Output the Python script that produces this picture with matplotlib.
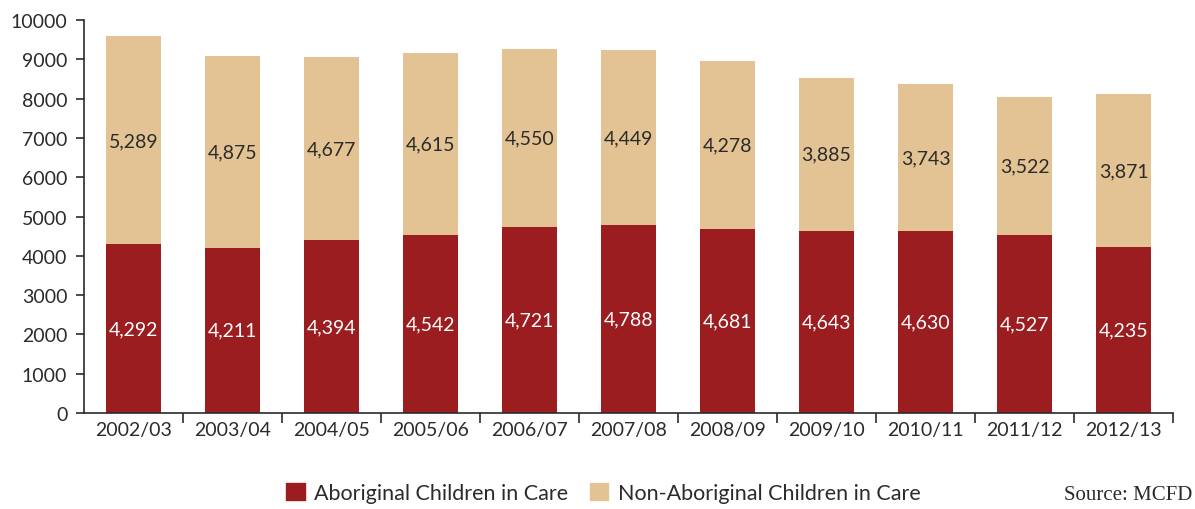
import matplotlib.pyplot as plt
import numpy as np
from matplotlib.patches import Patch

years = ["2002/03", "2003/04", "2004/05", "2005/06", "2006/07", "2007/08",
         "2008/09", "2009/10", "2010/11", "2011/12", "2012/13"]
aboriginal = [4292, 4211, 4394, 4542, 4721, 4788, 4681, 4643, 4630, 4527, 4235]
non_aboriginal = [5289, 4875, 4677, 4615, 4550, 4449, 4278, 3885, 3743, 3522, 3871]

red = "#9b1d20"
tan = "#e3c393"
txt = "#2b2b2b"

plt.rcParams["font.family"] = ["Lato", "DejaVu Sans"]

fig = plt.figure(figsize=(11.95, 5.1), dpi=100)
ax = fig.add_axes([0.0703, 0.1882, 0.9113, 0.7706])

x = np.arange(len(years))
ab = np.array(aboriginal)
non = np.array(non_aboriginal)
ax.bar(x, ab, width=0.55, color=red)
ax.bar(x, non, width=0.55, bottom=ab, color=tan)

for i in range(len(x)):
    ax.text(x[i], ab[i] / 2, "{:,}".format(ab[i]), ha="center", va="center",
            color="white", fontsize=14)
    ax.text(x[i], ab[i] + non[i] / 2, "{:,}".format(non[i]), ha="center",
            va="center", color=txt, fontsize=14)

ax.set_xlim(-0.5, len(years) - 0.5)
ax.set_ylim(0, 10000)
ax.set_yticks(range(0, 10001, 1000))
ax.tick_params(axis="y", labelsize=14, colors=txt, length=6, width=1.2, pad=6)
ax.set_xticks(x)
ax.set_xticklabels(years)
ax.tick_params(axis="x", which="major", length=0, labelsize=14, colors=txt, pad=6)
ax.set_xticks(np.arange(0.5, len(years) + 0.5, 1.0), minor=True)
ax.tick_params(axis="x", which="minor", length=7, width=1.2, color=txt)

for s in ["top", "right"]:
    ax.spines[s].set_visible(False)
for s in ["left", "bottom"]:
    ax.spines[s].set_color(txt)
    ax.spines[s].set_linewidth(1.2)

handles = [Patch(color=red, label="Aboriginal Children in Care"),
           Patch(color=tan, label="Non-Aboriginal Children in Care")]
fig.legend(handles=handles, loc="center", bbox_to_anchor=(0.505, 0.031),
           ncol=2, frameon=False, fontsize=15.5, labelcolor=txt,
           handlelength=0.85, handleheight=0.85, columnspacing=1.0,
           handletextpad=0.45)

fig.text(0.998, 0.02, "Source: MCFD", ha="right", va="baseline",
         family=["Liberation Serif", "DejaVu Serif"], fontsize=15, color=txt)

fig.savefig("out.png", dpi=100)
